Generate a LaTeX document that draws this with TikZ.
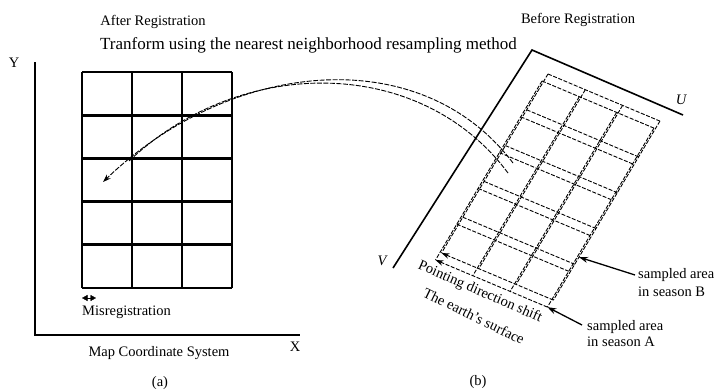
\documentclass[tikz,border=0pt]{standalone}
\usepackage{fontspec}
\setmainfont{Liberation Serif}
\usetikzlibrary{arrows.meta, positioning}
\tikzset{
    txt/.style = {font=\fontsize{14.5}{16}\selectfont, inner sep=0pt, align=left},
    title/.style = {font=\fontsize{17}{19}\selectfont, inner sep=0pt},
    axis/.style = {line width=1.2pt},
    mapgrid/.style = {line width=2.8pt},
    frame/.style = {line width=1.6pt},
    sgrid/.style = {line width=0.9pt, dash pattern=on 4pt off 1.6pt},
    resample/.style = {line width=0.9pt, dash pattern=on 5pt off 1.5pt},
    pointer/.style = {line width=1.3pt, -{Stealth[length=9pt,width=6pt]}},
    arrow/.style = {-{Stealth[length=8pt,width=5.5pt]}}
}
\begin{document}
\begin{tikzpicture}[x=1pt, y=-1pt]
\useasboundingbox (0,0) rectangle (717,391);

% titles
\node (after) [txt] at (153,22) {After Registration};
\node (before) [txt] at (578,20) {Before Registration};
\node (method) [title, anchor=west] at (100,45) {Tranform using the nearest neighborhood resampling method};

% (a) map coordinate system
\coordinate (origin) at (35,335);
\coordinate (ytop) at (35,62);
\coordinate (xend) at (300,335);
\draw [axis] (ytop) -- (origin) -- (xend);
\node (ylab) [txt] at (14,63) {Y};
\node (xlab) [txt] at (295,347) {X};
\foreach \x in {82,132,182,232} \draw [mapgrid] (\x,72) -- (\x,288);
\foreach \y in {72,115.2,158.4,201.6,244.8,288} \draw [mapgrid] (82,\y) -- (232,\y);
\coordinate (misL) at (82,298);
\coordinate (misR) at (96,298);
\draw [{Triangle[length=5.5pt,width=6pt]}-{Triangle[length=5.5pt,width=6pt]}] (misL) -- (misR);
\node (misreg) [txt, below=8pt of misL, anchor=north west] {Misregistration};
\node (mapcs) [txt] at (159,353) {Map Coordinate System};
\node (capa) [txt] at (160,383) {(a)};

% (b) image frame
\coordinate (corner) at (532,50);
\coordinate (uend) at (683,115);
\coordinate (vend) at (393,268);
\draw [frame] (vend) -- (corner) -- (uend);
\node (ulab) [txt, font=\fontsize{14.5}{16}\itshape] at (681,100) {U};
\node (vlab) [txt, font=\fontsize{14.5}{16}\itshape] at (382,261) {V};

% sampled area in season A
\begin{scope}[shift={(542,81)}, x={(37.3pt,-15.7pt)}, y={(-21.3pt,-35.8pt)}]
  \foreach \i in {0,...,3} \draw [sgrid] (\i,0) -- (\i,5);
  \foreach \j in {0,...,4} \draw [sgrid] (0,\j) -- (3,\j);
  \draw [sgrid, arrow] (3,5) -- (0,5);
  \coordinate (tipA) at (3,5);
\end{scope}
% sampled area in season B
\begin{scope}[shift={(548,74)}, x={(37.3pt,-15.7pt)}, y={(-21.3pt,-35.8pt)}]
  \foreach \i in {0,...,3} \draw [sgrid] (\i,0) -- (\i,5);
  \foreach \j in {0,...,4} \draw [sgrid] (0,\j) -- (3,\j);
  \draw [sgrid, arrow] (3,5) -- (0,5);
  \coordinate (tipB) at (3,3.8);
\end{scope}

\node (shift) [txt, rotate=-23.7] at (480,292) {Pointing direction shift};
\node (earth) [txt, rotate=-26] at (474,316) {The earth's surface};

\node (seasonB) [txt, anchor=north west] at (638,268) {sampled area\\[2pt]in season B};
\node (seasonA) [txt, anchor=north west] at (587,320) {sampled area\\in season A};
\draw [pointer] (seasonB.north west) ++(-3,7) -- (tipB);
\draw [pointer] (seasonA.north west) ++(-5,5) -- (tipA);

% resampling curves
\coordinate (srcA) at (513,163);
\coordinate (srcB) at (508,173);
\coordinate (dstA) at (103,182);
\coordinate (dstB) at (128,162);
\draw [resample, arrow] (srcA) .. controls (420,40) and (230,60) .. (dstA);
\draw [resample] (srcB) .. controls (420,55) and (240,55) .. (dstB);

\node (capb) [txt] at (478,382) {(b)};
\end{tikzpicture}
\end{document}
